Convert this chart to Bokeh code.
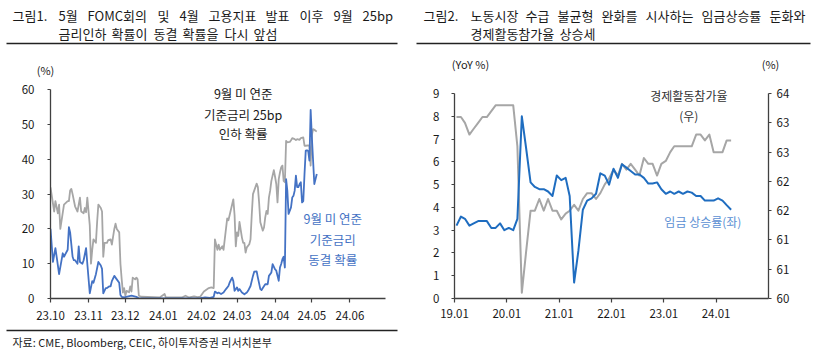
import pandas as pd
from bokeh.plotting import figure
from bokeh.layouts import column, row
from bokeh.models import Range1d, LinearAxis, FixedTicker, DatetimeTickFormatter, Label
from bokeh.embed import file_html
from bokeh.resources import INLINE
from bokeh.core.properties import value

FONT = "Noto Sans CJK KR"

# ---------------- Figure 1 data (daily, %) ----------------
cut_dates = ["2023-10-01","2023-10-04","2023-10-05","2023-10-07","2023-10-08","2023-10-09","2023-10-12","2023-10-15","2023-10-16","2023-10-17","2023-10-18","2023-10-19","2023-10-21","2023-10-23","2023-10-25","2023-10-26","2023-10-28","2023-10-29","2023-10-30","2023-10-31",
             "2023-11-02","2023-11-03","2023-11-04","2023-11-05","2023-11-07","2023-11-08","2023-11-09","2023-11-11","2023-11-12","2023-11-13","2023-11-14","2023-11-16","2023-11-17","2023-11-19","2023-11-20","2023-11-22","2023-11-23","2023-11-24","2023-11-26","2023-11-27","2023-11-28","2023-11-29","2023-11-30",
             "2023-12-01","2023-12-02","2023-12-04","2023-12-05","2023-12-06","2023-12-07","2023-12-09","2023-12-10","2023-12-11","2023-12-12","2023-12-14","2023-12-29",
             "2024-01-02","2024-01-03","2024-01-16","2024-01-19","2024-01-22","2024-01-26","2024-01-29","2024-01-31",
             "2024-02-01","2024-02-03","2024-02-05","2024-02-07","2024-02-09","2024-02-11","2024-02-12","2024-02-14","2024-02-15","2024-02-16","2024-02-18","2024-02-19","2024-02-22","2024-02-23","2024-02-24","2024-02-26","2024-02-27","2024-02-28","2024-02-29",
             "2024-03-01","2024-03-02","2024-03-03","2024-03-05","2024-03-06","2024-03-07","2024-03-08","2024-03-09","2024-03-11","2024-03-12","2024-03-13","2024-03-14","2024-03-16","2024-03-17","2024-03-18","2024-03-19","2024-03-20","2024-03-22","2024-03-23","2024-03-24","2024-03-25","2024-03-26","2024-03-27","2024-03-28","2024-03-29","2024-03-31",
             "2024-04-01","2024-04-02","2024-04-03","2024-04-04","2024-04-05","2024-04-06","2024-04-07","2024-04-08","2024-04-09","2024-04-10","2024-04-11","2024-04-13","2024-04-14","2024-04-15","2024-04-17","2024-04-18","2024-04-19","2024-04-21","2024-04-22","2024-04-24","2024-04-25","2024-04-26","2024-04-28","2024-04-29","2024-04-30",
             "2024-05-01","2024-05-02","2024-05-03","2024-05-04","2024-05-05"]
cut_prob = [31.9,25.0,28.0,24.5,27.0,20.0,27.0,28.0,28.0,31.0,31.5,30.0,26.5,25.0,29.0,25.0,24.5,26.0,24.8,29.0,
            21.0,10.0,14.0,17.0,16.0,22.0,27.0,26.0,25.0,12.0,16.0,16.0,16.8,17.0,15.5,20.0,21.5,20.0,19.0,10.0,5.6,1.7,3.0,
            0.8,2.2,1.8,3.5,2.0,6.0,5.5,6.0,5.5,0.8,0.5,0.3,
            1.3,0.3,0.3,0.8,0.3,0.6,0.4,0.5,
            1.0,2.0,2.5,3.0,3.2,3.0,17.0,14.0,15.5,14.0,15.0,14.0,23.0,22.5,24.0,27.0,28.5,24.0,15.0,
            19.0,18.0,22.0,17.5,16.0,16.0,13.2,14.7,15.6,17.0,24.0,30.0,32.0,33.0,32.0,27.6,21.9,19.5,20.4,23.3,25.2,24.3,29.0,31.0,33.8,36.9,
            35.0,32.9,27.6,34.3,36.2,37.7,38.2,33.8,33.4,45.3,44.9,45.0,45.5,46.1,45.8,45.5,45.8,45.6,46.1,46.3,43.9,43.9,44.0,43.9,38.2,
            47.0,48.7,48.5,48.2,48.0]

hold_dates = ["2023-10-01","2023-10-03","2023-10-05","2023-10-06","2023-10-08","2023-10-09","2023-10-11","2023-10-12","2023-10-15","2023-10-16","2023-10-17","2023-10-19","2023-10-20","2023-10-21","2023-10-23","2023-10-24","2023-10-25","2023-10-27","2023-10-28","2023-10-30","2023-10-31",
              "2023-11-02","2023-11-04","2023-11-05","2023-11-07","2023-11-09","2023-11-11","2023-11-12","2023-11-13","2023-11-15","2023-11-16","2023-11-18","2023-11-19","2023-11-20","2023-11-22","2023-11-24","2023-11-26","2023-11-27","2023-11-28","2023-11-30",
              "2023-12-06","2023-12-10","2023-12-12","2024-01-31",
              "2024-02-04","2024-02-08","2024-02-11","2024-02-12","2024-02-14","2024-02-15","2024-02-17","2024-02-19","2024-02-21","2024-02-23","2024-02-24","2024-02-26","2024-02-27","2024-02-28",
              "2024-03-01","2024-03-02","2024-03-03","2024-03-05","2024-03-07","2024-03-09","2024-03-10","2024-03-12","2024-03-14","2024-03-15","2024-03-17","2024-03-18","2024-03-20","2024-03-21","2024-03-22","2024-03-24","2024-03-26","2024-03-27","2024-03-29","2024-03-30",
              "2024-04-01","2024-04-02","2024-04-04","2024-04-05","2024-04-06","2024-04-07","2024-04-08","2024-04-09","2024-04-10","2024-04-11","2024-04-12","2024-04-14","2024-04-15","2024-04-16","2024-04-17","2024-04-18","2024-04-19","2024-04-20","2024-04-21","2024-04-22","2024-04-23","2024-04-24","2024-04-25","2024-04-26","2024-04-27","2024-04-28","2024-04-29","2024-04-30",
              "2024-05-01","2024-05-02","2024-05-03","2024-05-04","2024-05-05"]
hold_prob = [20.0,10.5,14.5,12.0,7.0,9.0,13.0,12.0,14.0,20.5,19.0,12.0,11.0,11.0,10.0,15.0,10.5,10.0,11.0,14.5,10.0,
             1.5,5.0,4.5,7.0,10.5,9.5,8.5,1.5,3.0,3.0,3.5,3.5,5.0,6.5,5.5,4.5,1.0,0.5,0.3,
             0.8,0.5,0.0,0.1,
             0.3,0.2,0.5,2.0,1.5,1.7,1.3,1.7,2.7,3.6,4.6,6.0,5.0,2.2,
             3.2,2.2,2.7,1.7,1.2,1.7,2.2,3.6,6.5,7.7,7.8,6.0,2.7,2.4,3.0,4.1,4.1,6.5,7.5,9.9,
             8.4,8.0,5.1,8.9,9.9,11.3,12.0,8.9,34.3,31.0,24.3,26.2,29.0,29.5,31.0,35.3,32.0,32.0,32.9,33.4,27.6,28.0,35.8,42.5,42.6,42.4,39.6,54.2,
             46.3,39.6,32.9,34.3,35.8]

fig1_ticks = ["2023-10-01","2023-11-01","2023-12-01","2024-01-01","2024-02-01","2024-03-01","2024-04-01","2024-05-01","2024-06-01"]
fig1_yticks = [0, 10, 20, 30, 40, 50, 60]

# ---------------- Figure 2 data (monthly) ----------------
month_start = "2019-01-01"
wage_growth = [3.2,3.6,3.5,3.2,3.3,3.4,3.4,3.4,3.1,3.1,3.3,3.0,
               3.1,3.0,3.5,8.0,6.6,5.1,4.9,4.8,4.8,4.7,4.5,5.4,
               5.2,5.3,4.5,0.7,2.1,3.9,4.3,4.4,4.6,5.5,5.4,5.0,
               5.7,5.3,5.9,5.75,5.6,5.45,5.45,5.3,5.05,5.05,5.1,4.8,
               4.6,4.7,4.6,4.7,4.6,4.7,4.65,4.5,4.5,4.3,4.3,4.3,
               4.4,4.3,4.1,3.9]
lfpr = [63.1,63.1,63.0,62.8,62.9,63.0,63.1,63.1,63.2,63.3,63.3,63.3,
        63.3,63.3,62.6,60.1,60.8,61.5,61.5,61.7,61.5,61.7,61.5,61.5,
        61.35,61.45,61.5,61.6,61.5,61.7,61.8,61.8,61.7,61.8,61.95,62.05,
        62.2,62.1,62.3,62.2,62.3,62.2,62.1,62.4,62.3,62.3,62.1,62.3,
        62.35,62.5,62.6,62.6,62.6,62.6,62.6,62.8,62.8,62.7,62.8,62.5,
        62.5,62.5,62.7,62.7]
fig2_xticks = ["2019-01-01","2020-01-01","2021-01-01","2022-01-01","2023-01-01","2024-01-01"]
fig2_left_ticks = [0,1,2,3,4,5,6,7,8,9]
lfpr_tick_values = [60.0,60.5,61.0,61.5,62.0,62.5,63.0,63.5]
lfpr_tick_labels = ["60","61","61","62","62","63","63","64"]

# ---------------- texts ----------------
title1_tag = "그림1."
title1_line1 = ["5월","FOMC회의","및","4월","고용지표","발표","이후","9월","25bp"]
title1_line2 = ["금리인하","확률이","동결","확률을","다시","앞섬"]
title2_tag = "그림2."
title2_line1 = ["노동시장","수급","불균형","완화를","시사하는","임금상승률","둔화와"]
title2_line2 = ["경제활동참가율","상승세"]
source_text = "자료: CME, Bloomberg, CEIC,  하이투자증권 리서치본부"
cut_note = ["9월 미 연준", "기준금리 25bp", "인하 확률"]
hold_note = ["9월 미 연준", "기준금리", "동결 확률"]

GRAY = "#A6A6A6"
BLUE1 = "#4472C4"
BLUE2 = "#1F6DC0"
AXIS = "#404040"
TXT = "#1a1a1a"


def ms(d):
    return pd.Timestamp(d).value / 1e6


def style_axis(ax, standoff, tick_out=4):
    ax.axis_line_color = AXIS
    ax.axis_line_width = 1.3
    ax.major_tick_line_color = AXIS
    ax.major_tick_line_width = 1.2
    ax.major_tick_out = tick_out
    ax.major_tick_in = 0
    ax.minor_tick_line_color = None
    ax.major_label_text_font = FONT
    ax.major_label_text_font_size = "11.5px"
    ax.major_label_text_color = TXT
    ax.major_label_standoff = standoff


def date_formatter():
    f = "%y.%m"
    return DatetimeTickFormatter(microseconds=f, milliseconds=f, seconds=f, minsec=f, minutes=f,
                                 hourmin=f, hours=f, days=f, months=f, years=f)


# ---------------- header ----------------
HDR_H = 80
hdr = figure(width=827, height=HDR_H, x_range=Range1d(0, 827), y_range=Range1d(HDR_H, 0),
             output_backend="svg", toolbar_location=None, x_axis_location=None, y_axis_location=None,
             min_border=0, outline_line_color=None)
hdr.grid.visible = False
l1x = [58, 87, 157, 179, 208, 265, 299, 333, 362]
l2x = [58, 111, 153, 182, 224, 253]
r1x = [470, 525, 557, 601, 645, 701, 769]
r2x = [470, 559]
hdr.text(x=[12, 423] + l1x + r1x + l2x + r2x,
         y=[15, 15] + [15] * len(l1x) + [15] * len(r1x) + [33] * len(l2x) + [33] * len(r2x),
         text=[title1_tag, title2_tag] + title1_line1 + title2_line1 + title1_line2 + title2_line2,
         text_font=value(FONT), text_font_size="13px", text_color=TXT,
         text_baseline="middle", text_align="left")
hdr.segment(x0=[6, 416], y0=[43, 43], x1=[397, 810], y1=[43, 43], line_color="#222222", line_width=1.3)
hdr.text(x=[45, 470, 770], y=[69, 63, 63], text=["(%)", "(YoY %)", "(%)"],
         text_font=value(FONT), text_font_size="11px", text_color=TXT,
         text_baseline="middle", text_align="center")

# ---------------- chart 1 ----------------
p1 = figure(width=413, height=247, x_axis_type="datetime",
            x_range=Range1d(ms("2023-10-01"), ms("2024-06-30")), y_range=Range1d(0, 61.5),
            output_backend="svg", toolbar_location=None,
            min_border_left=50, min_border_right=28, min_border_top=4, min_border_bottom=29,
            outline_line_color=None)
p1.grid.visible = False
p1.line(x=pd.to_datetime(cut_dates), y=cut_prob, line_color=GRAY, line_width=1.8, line_join="round")
p1.line(x=pd.to_datetime(hold_dates), y=hold_prob, line_color=BLUE1, line_width=1.8, line_join="round")
p1.xaxis.ticker = FixedTicker(ticks=[ms(d) for d in fig1_ticks])
p1.xaxis.formatter = date_formatter()
p1.yaxis.ticker = FixedTicker(ticks=fig1_yticks)
p1.yaxis.bounds = (0, 60)
style_axis(p1.xaxis[0], 8, 4)
style_axis(p1.yaxis[0], 13, 3)
for txt, yv in zip(cut_note, [58.9, 52.8, 47.4]):
    p1.add_layout(Label(x=ms("2024-03-06"), y=yv, text=txt, text_font=FONT, text_font_size="12.5px",
                        text_color=TXT, text_align="center", text_baseline="middle"))
for txt, yv in zip(hold_note, [22.9, 16.9, 11.1]):
    p1.add_layout(Label(x=ms("2024-05-18"), y=yv, text=txt, text_font=FONT, text_font_size="12.5px",
                        text_color=BLUE1, text_align="center", text_baseline="middle"))

# ---------------- chart 2 ----------------
mx = pd.date_range(month_start, periods=len(wage_growth), freq="MS") + pd.Timedelta(days=14)
p2 = figure(width=414, height=247, x_axis_type="datetime",
            x_range=Range1d(ms("2019-01-01"), ms("2025-01-01")), y_range=Range1d(0, 9.4),
            output_backend="svg", toolbar_location=None,
            min_border_left=41, min_border_right=59, min_border_top=4, min_border_bottom=26,
            outline_line_color=None)
p2.grid.visible = False
p2.extra_y_ranges = {"lfpr": Range1d(60, 60 + 9.4 * 3.5 / 9)}
p2.line(x=mx, y=lfpr, y_range_name="lfpr", line_color=GRAY, line_width=2, line_join="round")
p2.line(x=mx, y=wage_growth, line_color=BLUE2, line_width=2, line_join="round")
p2.xaxis.ticker = FixedTicker(ticks=[ms(d) for d in fig2_xticks])
p2.xaxis.formatter = date_formatter()
p2.yaxis.ticker = FixedTicker(ticks=fig2_left_ticks)
p2.yaxis.bounds = (0, 9)
style_axis(p2.xaxis[0], 6, 4)
style_axis(p2.yaxis[0], 12, 3)
rax = LinearAxis(y_range_name="lfpr", ticker=FixedTicker(ticks=lfpr_tick_values),
                 major_label_overrides=dict(zip(lfpr_tick_values, lfpr_tick_labels)),
                 bounds=(60, 63.5))
style_axis(rax, 5, 3)
p2.add_layout(rax, "right")
p2.add_layout(Label(x=ms("2023-06-25"), y=8.93, text="경제활동참가율", text_font=FONT, text_font_size="12px",
                    text_color="#333333", text_align="center", text_baseline="middle"))
p2.add_layout(Label(x=ms("2023-06-25"), y=8.06, text="(우)", text_font=FONT, text_font_size="12px",
                    text_color="#333333", text_align="center", text_baseline="middle"))
p2.add_layout(Label(x=ms("2023-10-01"), y=3.38, text="임금 상승률(좌)", text_font=FONT, text_font_size="12px",
                    text_color="#5B8FD3", text_align="center", text_baseline="middle"))

# ---------------- footer ----------------
ftr = figure(width=827, height=26, x_range=Range1d(0, 827), y_range=Range1d(26, 0),
             output_backend="svg", toolbar_location=None, x_axis_location=None, y_axis_location=None,
             min_border=0, outline_line_color=None)
ftr.grid.visible = False
ftr.segment(x0=[6], y0=[3], x1=[397], y1=[3], line_color="#222222", line_width=1.3)
ftr.text(x=[12], y=[14], text=[source_text], text_font=value(FONT), text_font_size="11px",
         text_color=TXT, text_baseline="middle", text_align="left")

layout = column(hdr, row(p1, p2, spacing=0), ftr, spacing=0)
open("out.html", "w").write(file_html(layout, INLINE))
